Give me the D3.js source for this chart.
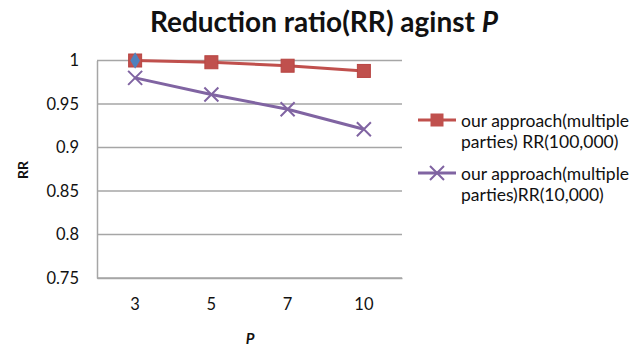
<!DOCTYPE html>
<html>
<head>
<meta charset="utf-8">
<script src="https://cdn.jsdelivr.net/npm/d3@7"></script>
<style>
  body { margin: 0; background: #fff; }
  text { font-family: Lato, "Open Sans", sans-serif; fill: #111; }
</style>
</head>
<body>
<svg id="chart" width="644" height="346"></svg>
<script>
// chart values
const categories = ["3", "5", "7", "10"];
const rr100k = [1.0, 0.998, 0.994, 0.988];
const rr10k = [0.98, 0.961, 0.944, 0.921];
const extraPoint = [1.0]; // lone blue marker at P=3
const yTicks = [0.75, 0.8, 0.85, 0.9, 0.95, 1];
const legendLabels = [
    ["our approach(multiple", "parties) RR(100,000)"],
    ["our approach(multiple", "parties)RR(10,000)"]
];

const svg = d3.select("#chart");
const plotLeft = 97, plotRight = 402, plotTop = 60.5, plotBottom = 278;

const x = d3.scaleBand().domain(categories).range([plotLeft, plotRight]);
const y = d3.scaleLinear().domain([0.75, 1]).range([plotBottom, plotTop]);

const red = "#c0504d", purple = "#8064a2", blue = "#4f81bd";

// title
svg.append("text")
    .attr("x", 324).attr("y", 32)
    .attr("text-anchor", "middle")
    .attr("font-size", 28).attr("font-weight", "bold")
    .text("Reduction ratio(RR) aginst ")
    .append("tspan").attr("font-style", "italic").text("P");

// gridlines
svg.append("g")
    .selectAll("line")
    .data(yTicks)
    .enter().append("line")
    .attr("x1", plotLeft).attr("x2", plotRight)
    .attr("y1", d => y(d)).attr("y2", d => y(d))
    .attr("stroke", "#a6a6a6").attr("stroke-width", 1.5);

// y axis
const yAxis = svg.append("g")
    .attr("transform", `translate(${plotLeft},0)`)
    .call(d3.axisLeft(y).tickValues(yTicks).tickFormat(d => d3.format("~g")(d)).tickSize(0).tickPadding(18));
yAxis.select(".domain").attr("stroke", "#a6a6a6").attr("stroke-width", 1.5);
yAxis.selectAll("text").attr("font-size", 16.5).attr("font-family", "Lato, sans-serif").attr("fill", "#222");

// x axis
const xAxis = svg.append("g")
    .attr("transform", `translate(0,${plotBottom})`)
    .call(d3.axisBottom(x).tickSize(0).tickPadding(20));
xAxis.select(".domain").attr("stroke", "#a6a6a6").attr("stroke-width", 1.5);
xAxis.selectAll("text").attr("font-size", 16.5).attr("font-family", "Lato, sans-serif").attr("fill", "#222");

// axis titles
svg.append("text")
    .attr("x", 250).attr("y", 344)
    .attr("text-anchor", "middle")
    .attr("font-size", 15).attr("font-weight", "bold").attr("font-style", "italic")
    .text("P");
svg.append("text")
    .attr("transform", "translate(28,170) rotate(-90)")
    .attr("text-anchor", "middle")
    .attr("font-size", 14).attr("font-weight", "bold")
    .text("RR");

const cx = d => x(d) + x.bandwidth() / 2;
const line = d3.line().x((d, i) => cx(categories[i])).y(d => y(d));

// red series
svg.append("path").datum(rr100k)
    .attr("d", line).attr("fill", "none")
    .attr("stroke", red).attr("stroke-width", 3);
svg.selectAll(".sq").data(rr100k).enter().append("rect")
    .attr("class", "sq")
    .attr("x", (d, i) => cx(categories[i]) - 6.5)
    .attr("y", d => y(d) - 6.5)
    .attr("width", 13).attr("height", 13)
    .attr("fill", red).attr("stroke", "#b84542");

// purple series
svg.append("path").datum(rr10k)
    .attr("d", line).attr("fill", "none")
    .attr("stroke", purple).attr("stroke-width", 3);
svg.selectAll(".xm").data(rr10k).enter().append("path")
    .attr("class", "xm")
    .attr("transform", (d, i) => `translate(${cx(categories[i])},${y(d)})`)
    .attr("d", "M-7,-7L7,7M-7,7L7,-7")
    .attr("stroke", purple).attr("stroke-width", 2);

// blue point
svg.selectAll(".bp").data(extraPoint).enter().append("path")
    .attr("class", "bp")
    .attr("transform", (d, i) => `translate(${cx(categories[i])},${y(d)})`)
    .attr("d", d3.symbol(d3.symbolDiamond, 80)())
    .attr("fill", blue);

// legend
const legend = svg.append("g");
const legendY = [120, 173];
legendLabels.forEach((lines, i) => {
    const g = legend.append("g").attr("transform", `translate(0,${legendY[i]})`);
    g.append("line").attr("x1", 418).attr("x2", 456).attr("y1", 0).attr("y2", 0)
        .attr("stroke", i === 0 ? red : purple).attr("stroke-width", 3);
    if (i === 0) {
        g.append("rect").attr("x", 430.5).attr("y", -6.5).attr("width", 13).attr("height", 13).attr("fill", red);
    } else {
        g.append("path").attr("d", "M430,-7L444,7M430,7L444,-7").attr("stroke", purple).attr("stroke-width", 2);
    }
    lines.forEach((t, j) => {
        g.append("text").attr("x", 461).attr("y", 7 + j * 21)
            .attr("font-size", 17.5).text(t);
    });
});
</script>
</body>
</html>
